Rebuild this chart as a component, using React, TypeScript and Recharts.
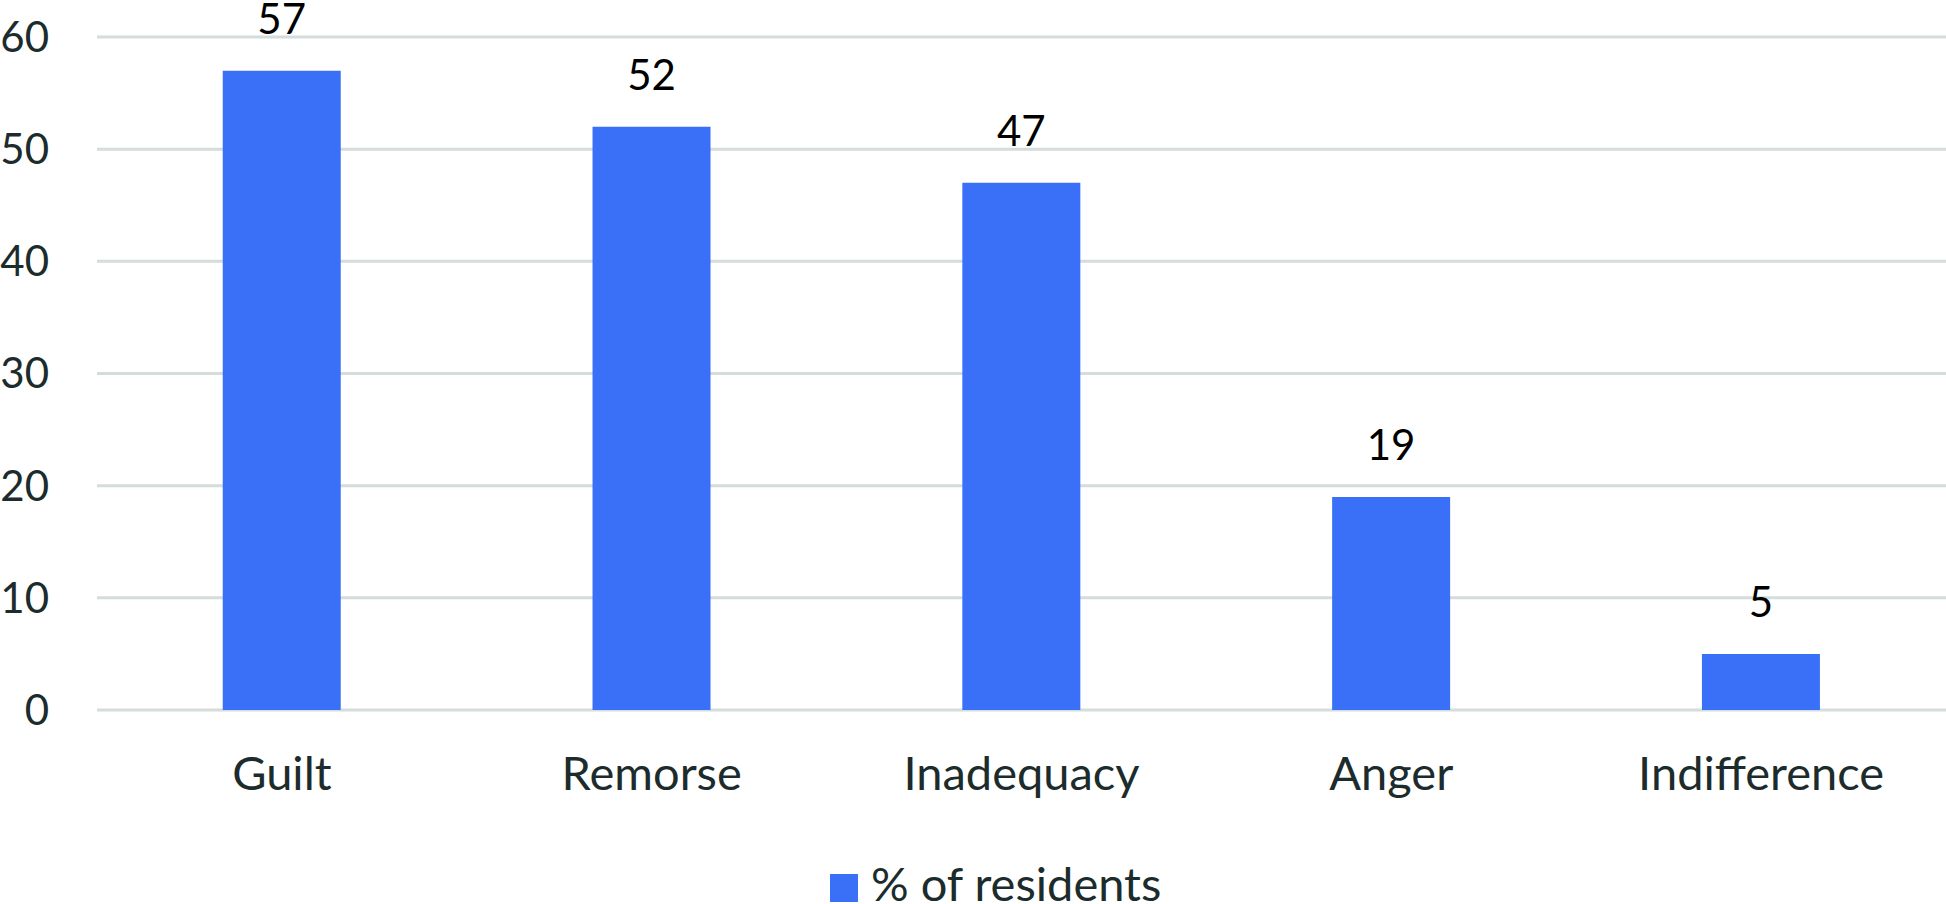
import React from "react";
import { Bar, BarChart, CartesianGrid, LabelList, Legend, XAxis, YAxis } from "recharts";

const categories = ["Guilt", "Remorse", "Inadequacy", "Anger", "Indifference"];
const residents = [57, 52, 47, 19, 5];
const yTicks = [0, 10, 20, 30, 40, 50, 60];

const data = categories.map((name, i) => ({ name, residents: residents[i] }));

const BLUE = "#3a70f7";
const GRID = "#d5dcdc";
const TEXT = "#1c2b2b";
const FONT = "Lato, 'Open Sans', sans-serif";

function renderLegend() {
  return (
    <div style={{ height: 38, width: 1946, position: "relative", fontFamily: FONT }}>
      <div style={{ position: "absolute", left: 830, top: 8, width: 28, height: 28, background: BLUE }} />
      <span
        style={{
          position: "absolute",
          left: 871,
          top: -6,
          fontSize: 47,
          lineHeight: "47px",
          color: TEXT,
          whiteSpace: "nowrap"
        }}
      >
        % of residents
      </span>
    </div>
  );
}

export default function App() {
  return (
    <div style={{ position: "absolute", left: 0, top: 0, width: 1946, height: 904, background: "#fff", fontFamily: FONT }}>
      <BarChart width={1946} height={904} data={data} margin={{ top: 37, right: 0, left: 0, bottom: 0 }} barCategoryGap="34%">
        <CartesianGrid horizontal vertical={false} stroke={GRID} strokeWidth={3} />
        <XAxis
          dataKey="name"
          height={156}
          axisLine={false}
          tickLine={false}
          tickSize={0}
          tickMargin={47}
          tick={{ fontSize: 47, fill: TEXT, fontFamily: FONT }}
        />
        <YAxis
          width={97}
          domain={[0, 60]}
          ticks={yTicks}
          axisLine={false}
          tickLine={false}
          tickSize={0}
          tickMargin={48}
          tick={{ fontSize: 42, fill: TEXT, fontFamily: FONT }}
        />
        <Legend verticalAlign="bottom" align="left" content={renderLegend} wrapperStyle={{ left: 0, width: 1946 }} />
        <Bar dataKey="residents" name="% of residents" fill={BLUE} isAnimationActive={false}>
          <LabelList dataKey="residents" position="top" offset={37} fill="#000" fontSize={42} fontFamily={FONT} />
        </Bar>
      </BarChart>
    </div>
  );
}
